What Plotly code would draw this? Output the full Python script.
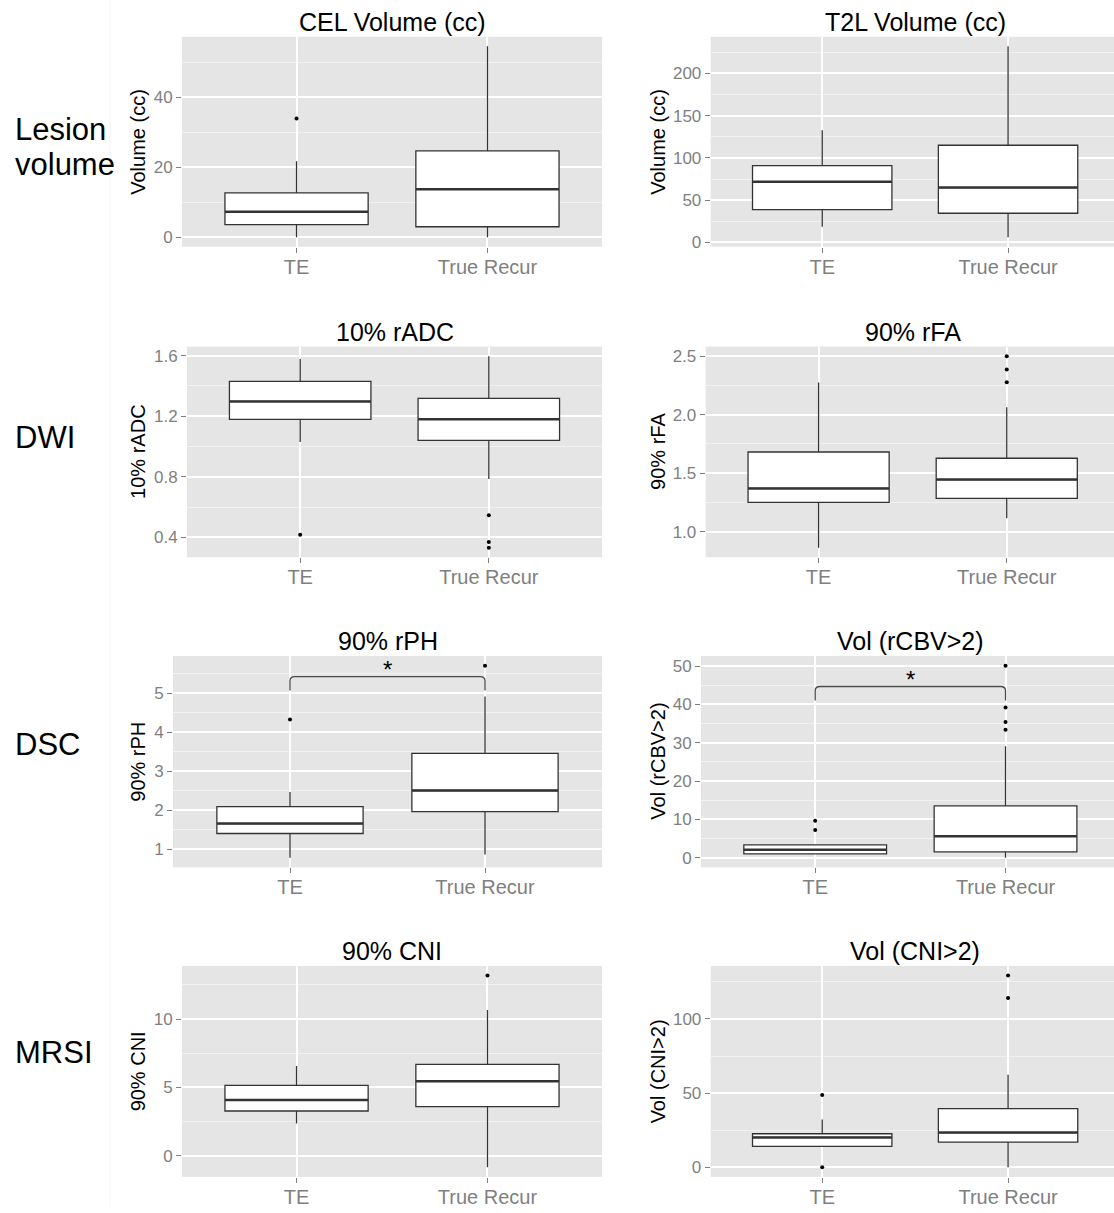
import plotly.graph_objects as go

W, H = 1114, 1213
FONT = "Liberation Sans, Arial, Helvetica, sans-serif"

groups = ["TE", "True Recur"]

panel_titles = ["CEL Volume (cc)", "T2L Volume (cc)", "10% rADC", "90% rFA",
                "90% rPH", "Vol (rCBV>2)", "90% CNI", "Vol (CNI>2)"]
y_titles = ["Volume (cc)", "Volume (cc)", "10% rADC", "90% rFA",
            "90% rPH", "Vol (rCBV>2)", "90% CNI", "Vol (CNI>2)"]
row_labels = [["Lesion", "volume"], ["DWI"], ["DSC"], ["MRSI"]]

# Box statistics per panel, [TE, True Recur]
q1 = [[3.6, 3.0], [38.9, 34.6], [1.180, 1.041], [1.251, 1.285],
      [1.408, 1.967], [1.04, 1.55], [3.27, 3.59], [14.1, 17.0]]
median = [[7.3, 13.7], [71.7, 65.0], [1.298, 1.180], [1.370, 1.446],
          [1.663, 2.51], [2.07, 5.6], [4.07, 5.44], [20.1, 23.4]]
q3 = [[12.7, 24.7], [90.8, 115.0], [1.430, 1.318], [1.681, 1.628],
      [2.097, 3.46], [3.37, 13.55], [5.15, 6.68], [22.6, 39.5]]
lower_fence = [[0.0, 0.0], [18.7, 6.2], [1.030, 0.785], [0.864, 1.116],
               [0.786, 0.87], [1.04, 0.0], [2.36, -0.85], [14.1, 0.0]]
upper_fence = [[21.7, 54.6], [132.9, 232.0], [1.578, 1.597], [2.275, 2.063],
               [2.47, 4.92], [3.37, 29.1], [6.56, 10.66], [32.2, 62.3]]
outliers_te = [[34.0], [], [0.418], [], [4.33], [9.66, 7.25], [], [48.7, 0.0]]
outliers_tr = [[], [], [0.546, 0.369, 0.332], [2.500, 2.387, 2.277],
               [5.71], [50.1, 39.2, 35.4, 33.4], [13.19], [129.3, 114.1]]

y_dtick = [20, 50, 0.4, 0.5, 1, 10, 5, 50]
y_tickformat = ["", "", ".1f", ".1f", "", "", "", ""]

# Significance brackets (panel index, bar height, leg end, star height)
sig_panels = [4, 5]
sig_bar_y = [5.43, 44.66]
sig_leg_y = [5.07, 41.0]
sig_star_y = [5.60, 46.4]

# Panel geometry in pixels
panel_left = [182, 710.7, 187, 705.7, 173, 701, 182, 710.7]
col_right = [602, 1114]
row_top = [37, 348.3, 659.3, 970.7]
row_bottom = [248, 560, 871.7, 1182.7]
x_range_col = [[0.4, 2.6], [0.4, 2.57]]
ytitle_x = [138, 658]
row_label_y = [[130, 165], [440], [748], [1058]]

BOX_W = 0.75
LINE_C = "#333333"
GREY_TXT = "#7f7f7f"

fig = go.Figure()
layout = {}
annotations = []
shapes = []

for i in range(8):
    n = i + 1
    row, col = divmod(i, 2)
    xa = "x" if n == 1 else f"x{n}"
    ya = "y" if n == 1 else f"y{n}"
    xkey = "xaxis" if n == 1 else f"xaxis{n}"
    ykey = "yaxis" if n == 1 else f"yaxis{n}"

    fig.add_trace(go.Box(
        x=[1, 2], q1=q1[i], median=median[i], q3=q3[i],
        lowerfence=lower_fence[i], upperfence=upper_fence[i],
        width=BOX_W, whiskerwidth=0, fillcolor="white",
        line=dict(color=LINE_C, width=1.3),
        boxpoints=False, showlegend=False, hoverinfo="skip",
        xaxis=xa, yaxis=ya))

    # heavier median bars
    mx, my = [], []
    for k, m in enumerate(median[i]):
        c = k + 1
        mx += [c - BOX_W / 2, c + BOX_W / 2, None]
        my += [m, m, None]
    fig.add_trace(go.Scatter(x=mx, y=my, mode="lines",
                             line=dict(color=LINE_C, width=2.5),
                             showlegend=False, hoverinfo="skip",
                             xaxis=xa, yaxis=ya))

    ox = [1] * len(outliers_te[i]) + [2] * len(outliers_tr[i])
    oy = outliers_te[i] + outliers_tr[i]
    if oy:
        fig.add_trace(go.Scatter(x=ox, y=oy, mode="markers",
                                 marker=dict(color="black", size=4),
                                 showlegend=False, hoverinfo="skip",
                                 xaxis=xa, yaxis=ya))

    vals = (lower_fence[i] + upper_fence[i] + q1[i] + q3[i]
            + outliers_te[i] + outliers_tr[i])
    lo, hi = min(vals), max(vals)
    pad = 0.05 * (hi - lo)
    yr = [lo - pad, hi + pad]

    layout[xkey] = dict(
        domain=[panel_left[i] / W, col_right[col] / W],
        range=x_range_col[col], anchor=ya,
        tickmode="array", tickvals=[1, 2], ticktext=groups,
        showgrid=True, gridcolor="white", gridwidth=1.5,
        zeroline=False, showline=False,
        ticks="outside", ticklen=5, tickwidth=1, tickcolor=GREY_TXT,
        ticklabelstandoff=-3,
        tickfont=dict(size=20, color=GREY_TXT, family=FONT))
    layout[ykey] = dict(
        domain=[1 - row_bottom[row] / H, 1 - row_top[row] / H],
        range=yr, anchor=xa,
        tickmode="linear", tick0=0, dtick=y_dtick[i],
        tickformat=y_tickformat[i],
        showgrid=True, gridcolor="white", gridwidth=1.5,
        minor=dict(tick0=0, dtick=y_dtick[i] / 2, showgrid=True,
                   gridcolor="#F2F2F2", gridwidth=1, ticks=""),
        zeroline=False, showline=False,
        ticks="outside", ticklen=5, tickwidth=1, tickcolor=GREY_TXT,
        tickfont=dict(size=17, color=GREY_TXT, family=FONT))

    annotations.append(dict(
        text=panel_titles[i], xref=xa, x=1.5,
        yref=f"{ya} domain", y=1, yanchor="middle", yshift=15,
        showarrow=False, font=dict(size=25, color="black", family=FONT)))
    annotations.append(dict(
        text=y_titles[i], xref="paper", x=ytitle_x[col] / W, xanchor="center",
        yref=f"{ya} domain", y=0.5, yanchor="middle", textangle=-90,
        showarrow=False, font=dict(size=20, color="black", family=FONT)))

    if i in sig_panels:
        s = sig_panels.index(i)
        yt, yb = sig_bar_y[s], sig_leg_y[s]
        ry = (yt - yb) * 0.3
        rx = 0.025
        path = (f"M 1,{yb} L 1,{yt - ry} Q 1,{yt} {1 + rx},{yt} "
                f"L {2 - rx},{yt} Q 2,{yt} 2,{yt - ry} L 2,{yb}")
        shapes.append(dict(type="path", path=path, xref=xa, yref=ya,
                           line=dict(color="#4a4a4a", width=1.3)))
        annotations.append(dict(
            text="*", xref=xa, x=1.5, yref=ya, y=sig_star_y[s],
            yanchor="middle", showarrow=False,
            font=dict(size=24, color="black", family=FONT)))

for r, lines in enumerate(row_labels):
    for txt, py in zip(lines, row_label_y[r]):
        annotations.append(dict(
            text=txt, xref="paper", x=13 / W, xanchor="left",
            yref="paper", y=1 - py / H, yanchor="middle",
            showarrow=False, font=dict(size=31, color="black", family=FONT)))

# faint divider between row labels and panels
shapes.append(dict(type="line", xref="paper", yref="paper",
                   x0=110 / W, x1=110 / W, y0=0, y1=1,
                   line=dict(color="#f3f3f3", width=1)))

fig.update_layout(
    width=W, height=H,
    margin=dict(l=0, r=0, t=0, b=0),
    paper_bgcolor="white", plot_bgcolor="#E5E5E5",
    font=dict(family=FONT),
    showlegend=False,
    annotations=annotations, shapes=shapes,
    **layout)

fig.write_html("out.html")
